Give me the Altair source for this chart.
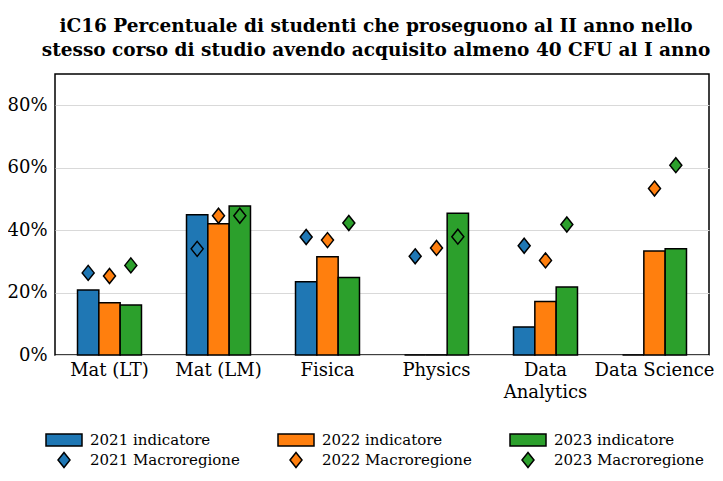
import altair as alt
import pandas as pd

categories = ["Mat (LT)", "Mat (LM)", "Fisica", "Physics", "Data Analytics", "Data Science"]
years = ["2021", "2022", "2023"]

ind_2021 = [20.8, 44.9, 23.5, 0.0, 9.0, 0.0]
ind_2022 = [16.7, 42.0, 31.5, 0.0, 17.1, 33.3]
ind_2023 = [16.0, 47.7, 24.8, 45.4, 21.8, 34.0]

mac_2021 = [26.3, 34.0, 37.8, 31.6, 35.0, None]
mac_2022 = [25.3, 44.6, 36.8, 34.3, 30.3, 53.3]
mac_2023 = [28.7, 44.6, 42.3, 37.9, 41.8, 60.8]

y_ticks = [0, 20, 40, 60, 80]

series_order = [
    "2021 indicatore", "2022 indicatore", "2023 indicatore",
    "2021 Macroregione", "2022 Macroregione", "2023 Macroregione",
]
colors = ["#1f77b4", "#ff7f0e", "#2ca02c"]

rect_path = "M-1.8,-0.6H1.8V0.6H-1.8Z"
diamond_path = "M0,-0.75L0.6,0L0,0.75L-0.6,0Z"

bar_rows = []
for y, vals in zip(years, [ind_2021, ind_2022, ind_2023]):
    for c, v in zip(categories, vals):
        bar_rows.append({"cat": c, "year": y, "value": v, "series": f"{y} indicatore"})
pt_rows = []
for y, vals in zip(years, [mac_2021, mac_2022, mac_2023]):
    for c, v in zip(categories, vals):
        if v is not None:
            pt_rows.append({"cat": c, "year": y, "value": v, "series": f"{y} Macroregione"})

bars_df = pd.DataFrame(bar_rows)
pts_df = pd.DataFrame(pt_rows)

FONT = "DejaVu Serif"

x_enc = alt.X(
    "cat:N", sort=categories, title=None,
    scale=alt.Scale(paddingInner=0.413, paddingOuter=0.2065),
    axis=alt.Axis(
        labelAngle=0, ticks=False, domain=False, labelPadding=6,
        labelExpr="datum.value == 'Data Analytics' ? ['Data', 'Analytics'] : datum.value",
    ),
)
xoff = alt.XOffset("year:N", sort=years, scale=alt.Scale(paddingInner=0, paddingOuter=0))
y_enc = alt.Y(
    "value:Q", title=None,
    scale=alt.Scale(domain=[0, 90], nice=False),
    axis=alt.Axis(values=y_ticks, labelExpr="datum.value + '%'", ticks=False,
                  domain=False, labelPadding=8, grid=True),
)
color_enc = alt.Color(
    "series:N",
    scale=alt.Scale(domain=series_order, range=colors + colors),
    legend=alt.Legend(
        title=None, orient="none", direction="horizontal", legendX=-2, legendY=355,
        columns=3, columnPadding=35, rowPadding=0, labelOffset=15, symbolSize=400,
        symbolStrokeColor="black", symbolStrokeWidth=1.5,
        labelFont=FONT, labelFontSize=15, labelColor="black", padding=0,
        labelLimit=300,
    ),
)
shape_enc = alt.Shape(
    "series:N",
    scale=alt.Scale(domain=series_order,
                    range=[rect_path] * 3 + [diamond_path] * 3),
    legend=alt.Legend(title=None),
)

bars = alt.Chart(bars_df).mark_bar(stroke="black", strokeWidth=1.5).encode(
    x=x_enc, xOffset=xoff, y=y_enc, color=color_enc,
)
points = alt.Chart(pts_df).mark_point(
    filled=True, size=400, strokeWidth=1.5, opacity=1, xOffset=-2
).encode(
    x=x_enc, xOffset=xoff, y=y_enc, color=color_enc, shape=shape_enc,
    stroke=alt.value("black"),
)

chart = alt.layer(bars, points).properties(
    width=654, height=281,
    autosize=alt.AutoSizeParams(type="none"),
    padding={"left": 47, "top": 66, "right": 6, "bottom": 116},
    title=alt.Title(
        ["iC16 Percentuale di studenti che proseguono al II anno nello",
         "stesso corso di studio avendo acquisito almeno 40 CFU al I anno"],
        font=FONT, fontSize=18.5, fontWeight="bold", lineHeight=24,
        anchor="middle", offset=15, dx=-6, color="black",
    ),
).configure_view(
    stroke="black", strokeWidth=1.5,
).configure_axis(
    labelFont=FONT, labelFontSize=18, labelColor="black", gridColor="#d9d9d9",
    gridWidth=1, labelLineHeight=22,
)

chart.save("out.html", embed_options={"renderer": "svg", "actions": False})
